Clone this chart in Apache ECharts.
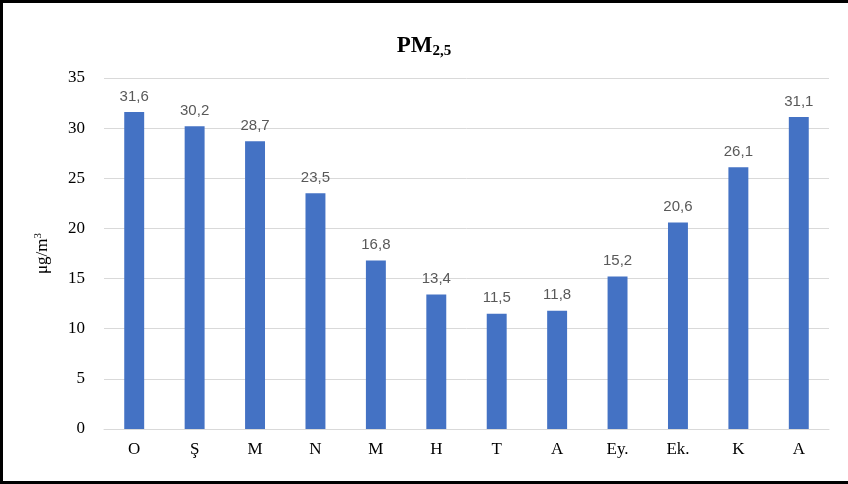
<!DOCTYPE html>
<html lang="tr">
<head>
    <meta charset="UTF-8">
    <title>PM2,5</title>
    <script src="https://cdn.jsdelivr.net/npm/echarts@6/dist/echarts.min.js"></script>
    <style>
        html, body { margin: 0; padding: 0; background: #fff; }
        #chart { width: 848px; height: 484px; }
    </style>
</head>
<body>
<div id="chart"></div>
<script>
    // aylar ve değerler
    var months = ['O', 'Ş', 'M', 'N', 'M', 'H', 'T', 'A', 'Ey.', 'Ek.', 'K', 'A'];
    var pm25 = [31.6, 30.2, 28.7, 23.5, 16.8, 13.4, 11.5, 11.8, 15.2, 20.6, 26.1, 31.1];
    var yTicks = { min: 0, max: 35, interval: 5 };

    var serif = 'Liberation Serif';
    var sans = 'Liberation Sans';

    var myChart = echarts.init(document.getElementById('chart'));

    var option = {
        animation: false,
        backgroundColor: '#fff',
        title: {
            text: '{a|PM}{b|2,5}',
            left: 'center',
            top: 27,
            textStyle: {
                rich: {
                    a: { fontFamily: serif, fontWeight: 'bold', fontSize: 23, color: '#000', lineHeight: 28 },
                    b: { fontFamily: serif, fontWeight: 'bold', fontSize: 15, color: '#000', lineHeight: 28, padding: [11, 0, 0, 0] }
                }
            }
        },
        graphic: [
            {
                type: 'polyline',
                shape: { points: [[848, 1.5], [1.5, 1.5], [1.5, 482.5], [848, 482.5]] },
                style: { stroke: '#000', lineWidth: 3, fill: null }
            }
        ],
        grid: { left: 104, right: 19, top: 78, bottom: 55 },
        xAxis: {
            type: 'category',
            data: months,
            axisLine: { lineStyle: { color: '#d9d9d9', width: 1 } },
            axisTick: { show: false },
            axisLabel: { fontFamily: serif, fontSize: 17, color: '#000', margin: 12 }
        },
        yAxis: {
            type: 'value',
            min: yTicks.min,
            max: yTicks.max,
            interval: yTicks.interval,
            name: 'μg/m{s|3}',
            nameLocation: 'middle',
            nameGap: 52,
            nameRotate: 90,
            nameTextStyle: {
                fontFamily: serif, fontSize: 17, color: '#000',
                rich: { s: { fontFamily: serif, fontSize: 11, color: '#000', padding: [0, 0, 8, 0] } }
            },
            axisLine: { show: false },
            axisTick: { show: false },
            axisLabel: { fontFamily: serif, fontSize: 17, color: '#000', margin: 19 },
            splitLine: { lineStyle: { color: '#d9d9d9', width: 1 } }
        },
        series: [
            {
                name: 'PM2,5',
                type: 'bar',
                data: pm25,
                barWidth: '33%',
                itemStyle: { color: '#4472c4' },
                label: {
                    show: true,
                    position: 'top',
                    distance: 8,
                    fontFamily: sans,
                    fontSize: 15,
                    color: '#595959',
                    formatter: function (p) { return String(p.value).replace('.', ','); }
                }
            }
        ]
    };

    myChart.setOption(option);
</script>
</body>
</html>
